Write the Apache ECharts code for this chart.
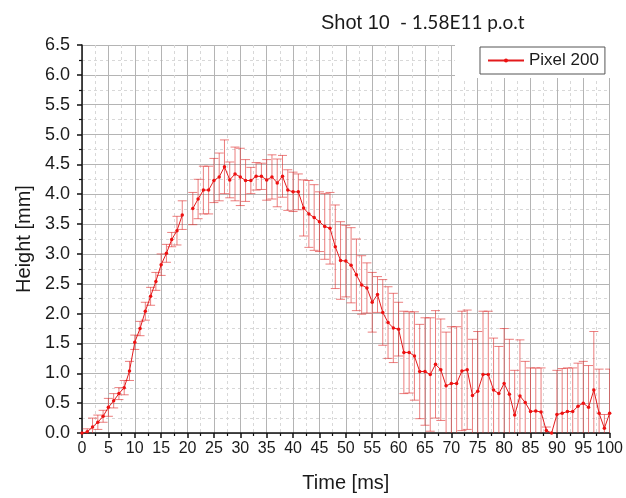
<!DOCTYPE html>
<html>
<head>
<meta charset="utf-8">
<script src="https://cdn.jsdelivr.net/npm/echarts@6/dist/echarts.min.js"></script>
<style>
  html, body { margin: 0; padding: 0; background: #fff; }
  #chart { width: 626px; height: 498px; }
</style>
</head>
<body>
<div id="chart"></div>
<script>
// Pixel 200 height profile for shot 10 (1.58E11 p.o.t)
const timesMs = [
  0, 1, 2, 3, 4, 5, 6, 7, 8, 9,
  10, 11, 12, 13, 14, 15, 16, 17, 18, 19,
  20, 21, 22, 23, 24, 25, 26, 27, 28, 29,
  30, 31, 32, 33, 34, 35, 36, 37, 38, 39,
  40, 41, 42, 43, 44, 45, 46, 47, 48, 49,
  50, 51, 52, 53, 54, 55, 56, 57, 58, 59,
  60, 61, 62, 63, 64, 65, 66, 67, 68, 69,
  70, 71, 72, 73, 74, 75, 76, 77, 78, 79,
  80, 81, 82, 83, 84, 85, 86, 87, 88, 89,
  90, 91, 92, 93, 94, 95, 96, 97, 98, 99,
  100
];
const heightMm = [
  0.00, 0.02, 0.10, 0.18, 0.28, 0.43, 0.54, 0.66, 0.76, 1.04,
  1.52, 1.75, 2.04, 2.29, 2.54, 2.82, 3.01, 3.24, 3.39, 3.65,
  null, 3.76, 3.92, 4.07, 4.07, 4.23, 4.29, 4.46, 4.24, 4.34,
  4.29, 4.23, 4.23, 4.30, 4.30, 4.24, 4.29, 4.19, 4.30, 4.07,
  4.04, 4.04, 3.77, 3.67, 3.61, 3.54, 3.46, 3.43, 3.12, 2.89,
  2.88, 2.81, 2.65, 2.48, 2.43, 2.19, 2.32, 2.02, 1.85, 1.76,
  1.74, 1.35, 1.35, 1.29, 1.03, 1.03, 0.98, 1.15, 1.06, 0.79,
  0.83, 0.83, 1.04, 1.06, 0.63, 0.70, 0.98, 0.98, 0.72, 0.66,
  0.83, 0.65, 0.30, 0.62, 0.51, 0.36, 0.37, 0.35, 0.04, 0.00,
  0.31, 0.33, 0.36, 0.36, 0.45, 0.50, 0.43, 0.72, 0.33, 0.08,
  0.33
];
const errorMm = [
  0.00, 0.05, 0.15, 0.12, 0.10, 0.15, 0.12, 0.10, 0.12, 0.16,
  0.12, 0.12, 0.15, 0.15, 0.15, 0.18, 0.15, 0.12, 0.24, 0.24,
  null, 0.27, 0.33, 0.40, 0.40, 0.37, 0.40, 0.45, 0.30, 0.45,
  0.48, 0.35, 0.22, 0.23, 0.22, 0.34, 0.37, 0.40, 0.35, 0.34,
  0.33, 0.30, 0.47, 0.56, 0.55, 0.50, 0.55, 0.60, 0.70, 0.65,
  0.60, 0.63, 0.60, 0.49, 0.42, 0.50, 0.30, 0.55, 0.60, 0.58,
  0.45, 0.69, 0.68, 0.74, 0.79, 0.90, 0.95, 0.90, 0.85, 0.90,
  0.95, 0.95, 1.00, 1.00, 0.94, 1.00, 1.06, 1.06, 0.87, 0.79,
  0.92, 0.92, 0.75, 0.94, 0.69, 0.73, 0.72, 0.74, 0.06, 0.00,
  0.74, 0.75, 0.73, 0.73, 0.72, 0.70, 0.70, 0.98, 0.74, 0.23,
  0.74
];
const seriesName = 'Pixel 200';

const lineData = timesMs.map((t, i) => [t, heightMm[i]]);
const errData = [];
timesMs.forEach((t, i) => {
  if (heightMm[i] !== null && errorMm[i]) errData.push([t, heightMm[i], errorMm[i]]);
});

const TXT = '#1a1a1a';
const FONT = '"Liberation Sans", Arial, sans-serif';

const chart = echarts.init(document.getElementById('chart'), null, { renderer: 'canvas' });

chart.setOption({
  animation: false,
  backgroundColor: '#ffffff',
  title: {
    left: 316,
    top: 8,
    text: '{a|Shot 10}  {b|- 1.58E11 p.o.t}',
    textStyle: {
      fontWeight: 'normal',
      rich: {
        a: { fontFamily: FONT, fontSize: 20, fontWeight: 'normal', color: TXT },
        b: { fontFamily: 'Lato, "Open Sans", sans-serif', fontSize: 19, fontWeight: 'normal', color: TXT }
      }
    }
  },
  grid: { left: 82, right: 13, top: 45, bottom: 64, containLabel: false },
  graphic: [{
    type: 'rect',
    z: 5,
    shape: { x: 455, y: 44, width: 158, height: 34 },
    style: { fill: '#ffffff' }
  }],
  legend: {
    left: 480,
    top: 47,
    z: 10,
    data: [seriesName],
    itemWidth: 36,
    itemHeight: 5,
    itemGap: 5,
    padding: [5, 6, 5, 7],
    borderColor: '#555',
    borderWidth: 1,
    borderRadius: 0,
    backgroundColor: '#fff',
    textStyle: { fontFamily: FONT, fontSize: 17, color: TXT }
  },
  xAxis: {
    type: 'value',
    min: 0,
    max: 100,
    interval: 5,
    name: 'Time [ms]',
    nameLocation: 'middle',
    nameGap: 40,
    nameTextStyle: { fontFamily: FONT, fontSize: 20, color: TXT },
    axisLine: { show: true, onZero: false, lineStyle: { color: '#111', width: 1.5 } },
    axisTick: { show: true, length: 5, lineStyle: { color: '#111', width: 1.5 } },
    minorTick: { show: true, splitNumber: 2, length: 3, lineStyle: { color: '#111', width: 1.2 } },
    axisLabel: { fontFamily: FONT, fontSize: 16, color: TXT, margin: 8 },
    splitLine: { show: true, lineStyle: { color: '#b4b4b4', width: 1 } },
    minorSplitLine: { show: true, lineStyle: { color: '#d8d8d8', width: 1, type: [3, 3] } }
  },
  yAxis: {
    type: 'value',
    min: 0,
    max: 6.5,
    interval: 0.5,
    name: 'Height [mm]',
    nameLocation: 'middle',
    nameGap: 47,
    nameTextStyle: { fontFamily: FONT, fontSize: 20, color: TXT },
    axisLine: { show: true, onZero: false, lineStyle: { color: '#111', width: 1.5 } },
    axisTick: { show: true, length: 5, lineStyle: { color: '#111', width: 1.5 } },
    minorTick: { show: true, splitNumber: 2, length: 3, lineStyle: { color: '#111', width: 1.2 } },
    axisLabel: { fontFamily: FONT, fontSize: 18, color: TXT, margin: 12, formatter: v => v.toFixed(1) },
    splitLine: { show: true, lineStyle: { color: '#b4b4b4', width: 1 } },
    minorSplitLine: { show: true, lineStyle: { color: '#d8d8d8', width: 1, type: [3, 3] } }
  },
  series: [
    {
      name: seriesName,
      type: 'line',
      data: lineData,
      connectNulls: false,
      symbol: 'circle',
      symbolSize: 3.5,
      showSymbol: true,
      z: 4,
      lineStyle: { color: '#e31a1c', width: 1 },
      itemStyle: { color: '#ee1111' }
    },
    {
      name: 'error',
      type: 'custom',
      clip: true,
      z: 3,
      data: errData,
      encode: { x: 0, y: 1 },
      renderItem: function (params, api) {
        const x = api.value(0);
        const y = api.value(1);
        const e = api.value(2);
        const hiV = y + e;
        const loV = Math.max(0, y - e);
        const hi = api.coord([x, hiV]);
        const lo = api.coord([x, loV]);
        const half = 4.5;
        const stroke = { stroke: 'rgba(222,40,40,0.6)', lineWidth: 1 };
        const children = [
          { type: 'line', shape: { x1: hi[0], y1: hi[1], x2: lo[0], y2: lo[1] }, style: stroke },
          { type: 'line', shape: { x1: hi[0] - half, y1: hi[1], x2: hi[0] + half, y2: hi[1] }, style: stroke }
        ];
        if (y - e >= 0) {
          children.push({ type: 'line', shape: { x1: lo[0] - half, y1: lo[1], x2: lo[0] + half, y2: lo[1] }, style: stroke });
        }
        return { type: 'group', children: children };
      }
    }
  ]
});
</script>
</body>
</html>
